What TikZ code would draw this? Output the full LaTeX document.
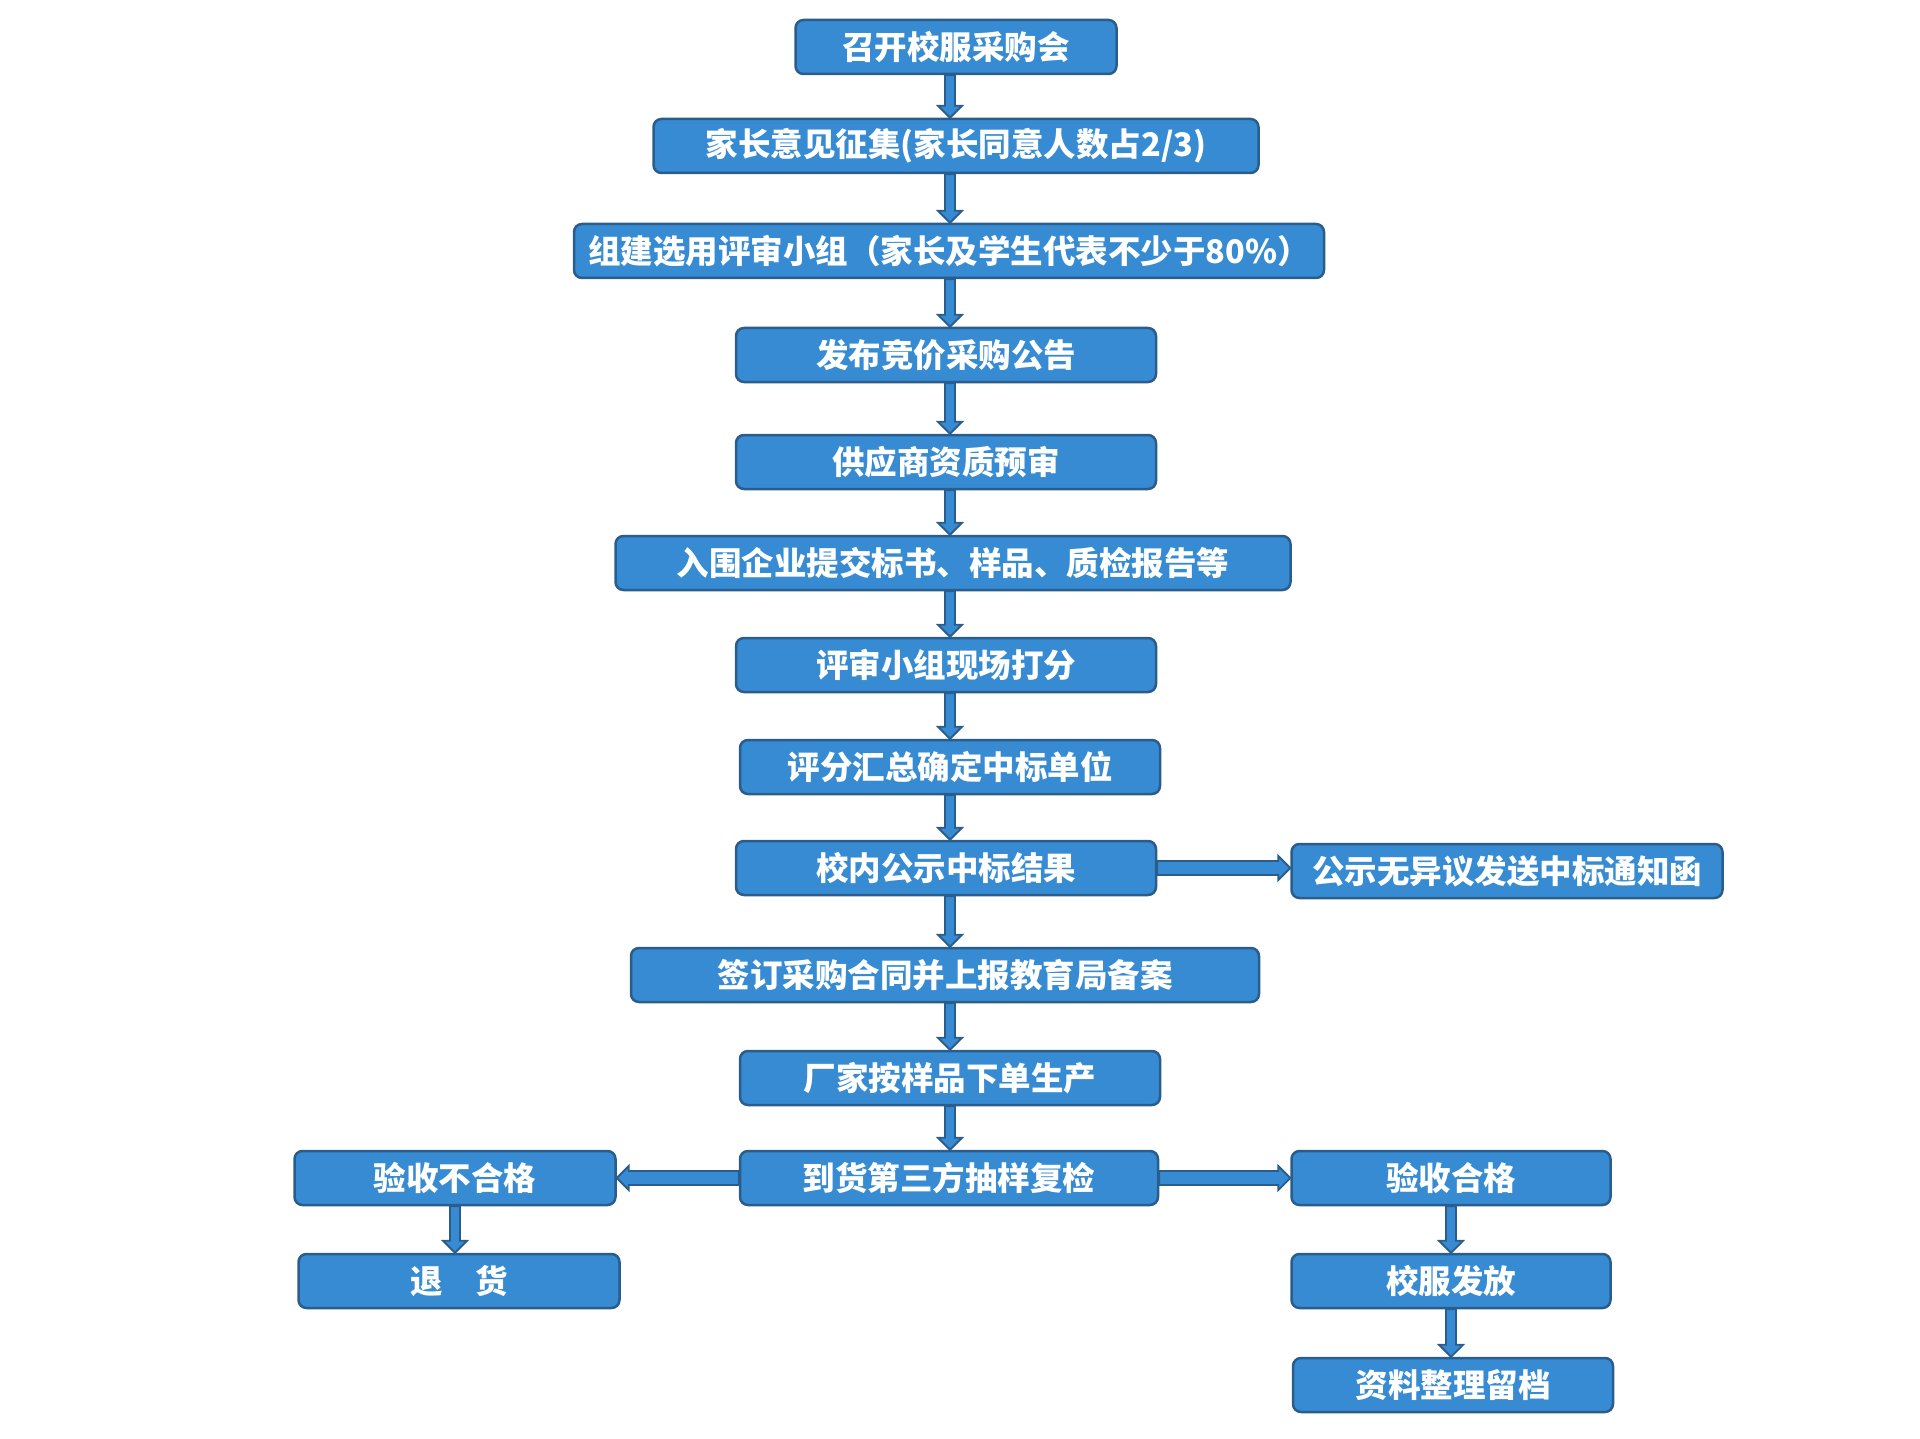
\documentclass[tikz,border=0pt]{standalone}
\usepackage{fontspec}
\setmainfont{Noto Sans CJK SC}
\usetikzlibrary{calc}
\definecolor{boxfill}{HTML}{368BD2}
\definecolor{boxline}{HTML}{2A5C8C}
\tikzset{
  flowbox/.style={draw=boxline, line width=2.5pt, fill=boxfill, rounded corners=8pt,
    minimum height=54pt, inner sep=0pt, text=white,
    font=\fontsize{32.5}{36}\selectfont\bfseries},
  arrowbody/.style={draw=boxline, line width=1.8pt, fill=boxfill, line join=miter}
}
\newcommand\hlen{12pt}
\newcommand\hwid{12pt}
\newcommand\barrow[3]{%
  \path ($(#2)!\hlen!(#1)$) coordinate (bh);
  \draw[arrowbody] ($(#1)!#3!90:(#2)$) -- ($(bh)!#3!90:(#2)$) -- ($(bh)!\hwid!90:(#2)$) -- (#2)
    -- ($(bh)!\hwid!-90:(#2)$) -- ($(bh)!#3!-90:(#2)$) -- ($(#1)!#3!-90:(#2)$) -- cycle;}
\begin{document}
\begin{tikzpicture}[x=1pt,y=-1pt]
\useasboundingbox (0,0) rectangle (1920,1439);
\coordinate (ax) at (950,0);
\node[flowbox, minimum width=321pt] (b1) at (956,47) {召开校服采购会};
\node[flowbox, minimum width=605pt] (b2) at (956,146) {家长意见征集(家长同意人数占2/3)};
\node[flowbox, minimum width=750pt] (b3) at (949,251) {组建选用评审小组（家长及学生代表不少于80\%）};
\node[flowbox, minimum width=420pt] (b4) at (946,355) {发布竞价采购公告};
\node[flowbox, minimum width=420pt] (b5) at (946,462) {供应商资质预审};
\node[flowbox, minimum width=675pt] (b6) at (953,563) {入围企业提交标书、样品、质检报告等};
\node[flowbox, minimum width=420pt] (b7) at (946,665) {评审小组现场打分};
\node[flowbox, minimum width=420pt] (b8) at (950,767) {评分汇总确定中标单位};
\node[flowbox, minimum width=420pt] (b9) at (946,868) {校内公示中标结果};
\node[flowbox, minimum width=431pt] (s9) at (1507,871) {公示无异议发送中标通知函};
\node[flowbox, minimum width=628pt] (b10) at (945,975) {签订采购合同并上报教育局备案};
\node[flowbox, minimum width=420pt] (b11) at (950,1078) {厂家按样品下单生产};
\node[flowbox, minimum width=418pt] (b12) at (949,1178) {到货第三方抽样复检};
\node[flowbox, minimum width=321pt] (l1) at (455,1178) {验收不合格};
\node[flowbox, minimum width=321pt] (l2) at (459,1281) {退\hspace{1em}货};
\node[flowbox, minimum width=319pt] (r1) at (1451,1178) {验收合格};
\node[flowbox, minimum width=319pt] (r2) at (1451,1281) {校服发放};
\node[flowbox, minimum width=320pt] (r3) at (1453,1385) {资料整理留档};
\barrow{b1.south -| ax}{b2.north -| ax}{5pt}
\barrow{b2.south -| ax}{b3.north -| ax}{5pt}
\barrow{b3.south -| ax}{b4.north -| ax}{5pt}
\barrow{b4.south -| ax}{b5.north -| ax}{5pt}
\barrow{b5.south -| ax}{b6.north -| ax}{5pt}
\barrow{b6.south -| ax}{b7.north -| ax}{5pt}
\barrow{b7.south -| ax}{b8.north -| ax}{5pt}
\barrow{b8.south -| ax}{b9.north -| ax}{5pt}
\barrow{b9.south -| ax}{b10.north -| ax}{5pt}
\barrow{b10.south -| ax}{b11.north -| ax}{5pt}
\barrow{b11.south -| ax}{b12.north -| ax}{5pt}
\barrow{b9.east}{s9.west |- b9.east}{7pt}
\barrow{b12.west}{l1.east}{7pt}
\barrow{b12.east}{r1.west}{7pt}
\barrow{l1.south}{l1.south |- l2.north}{5pt}
\barrow{r1.south}{r2.north}{5pt}
\barrow{r2.south}{r2.south |- r3.north}{5pt}
\end{tikzpicture}
\end{document}
